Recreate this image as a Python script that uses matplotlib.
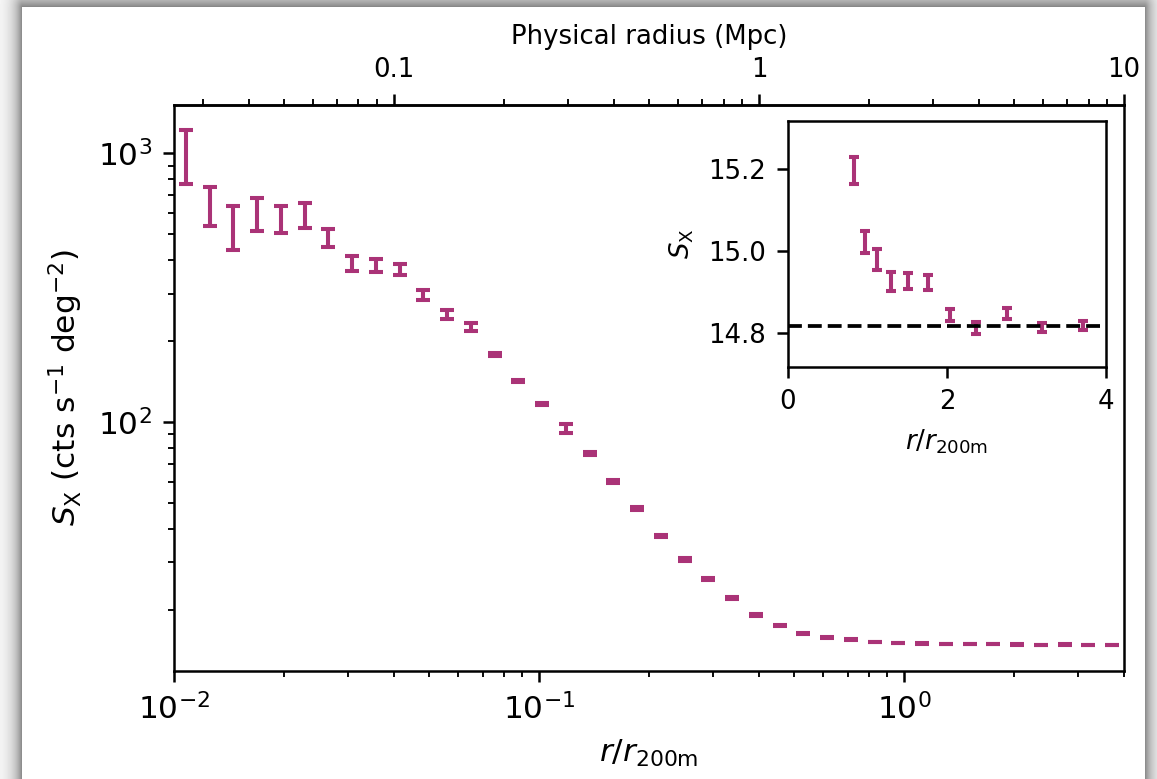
import numpy as np
import matplotlib
matplotlib.use("Agg")
import matplotlib.pyplot as plt
from matplotlib.ticker import FuncFormatter, FixedLocator

# radial bin centres in units of r_200m
r = [0.01078, 0.01252, 0.01454, 0.01689, 0.01963, 0.02280, 0.02648, 0.03076,
     0.03573, 0.04150, 0.04821, 0.05600, 0.06505, 0.07556, 0.08777, 0.10193,
     0.11840, 0.13754, 0.15977, 0.18557, 0.21556, 0.25040, 0.29085, 0.33785,
     0.39244, 0.45585, 0.52952, 0.61506, 0.71444, 0.82992, 0.96402, 1.1198,
     1.3007, 1.5109, 1.7550, 2.0386, 2.3680, 2.7506, 3.1950, 3.7113]

# surface brightness profile (cts/s/deg^2) and 1-sigma errors
sx = [991, 644, 537, 597, 572, 592, 484, 391,
      382, 370, 297, 251, 226, 178.3, 141.9, 117.0,
      94.6, 76.3, 60.1, 47.6, 37.7, 30.8, 26.1, 22.1,
      19.1, 17.5, 16.3, 15.75, 15.45, 15.197, 15.022, 14.979,
      14.925, 14.926, 14.923, 14.844, 14.811, 14.847, 14.813, 14.818]
sx_err = [225, 107, 100, 83, 65, 63, 38, 25,
          22, 17, 11.5, 10, 7.5, 3.0, 1.5, 1.0,
          3.3, 0.8, 0.6, 0.5, 0.4, 0.3, 0.25, 0.2,
          0.15, 0.12, 0.1, 0.08, 0.06, 0.033, 0.028, 0.025,
          0.023, 0.020, 0.018, 0.015, 0.015, 0.013, 0.011, 0.011]

background = 14.816   # fitted background level
r200m_mpc = 2.5       # r_200m in physical Mpc
n_out = 11            # outer bins shown in the inset
mpc_ticks = [0.1, 1, 10]

colour = "#AA3377"
W, H, DPI = 1157, 779, 225

fig = plt.figure(figsize=(W / DPI, H / DPI), dpi=DPI)

# soft drop shadow around the white card
yy, xx = np.mgrid[0:H, 0:W]
dx = np.maximum(np.maximum(22 - xx, xx - 1144), 0)
dy = np.maximum(7 - yy, 0)
d = np.hypot(dx / 9.0, dy / 14.0)
shade = np.where(d > 0, 1 - 0.5 * np.exp(-d), 1.0)
bg = fig.add_axes([0, 0, 1, 1], zorder=-10)
bg.imshow(shade, cmap="gray", vmin=0, vmax=1, aspect="auto", interpolation="bilinear")
bg.axis("off")

ax = fig.add_axes([174 / W, 1 - 670.7 / H, 950 / W, 566 / H])
ax.errorbar(r, sx, yerr=sx_err, fmt="none", ecolor=colour,
            elinewidth=1.3, capsize=2.1, capthick=1.3)
ax.set_xscale("log")
ax.set_yscale("log")
ax.set_xlim(0.01, 4)
ax.set_xlabel(r"$r/r_{\rm 200m}$")
ax.set_ylabel(r"$S_{\rm X}$ (cts s$^{-1}$ deg$^{-2}$)")

# physical radius along the top
top = ax.secondary_xaxis("top", functions=(lambda x: x * r200m_mpc,
                                           lambda x: x / r200m_mpc))
top.xaxis.set_major_locator(FixedLocator(mpc_ticks))
top.xaxis.set_major_formatter(FuncFormatter(lambda v, _: f"{v:g}"))
top.tick_params(labelsize="small")
top.set_xlabel("Physical radius (Mpc)", fontsize="small")

# zoom on the outskirts, linear axes
ins = fig.add_axes([788 / W, 1 - 366.7 / H, 318 / W, 245.7 / H])
ins.errorbar(r[-n_out:], sx[-n_out:], yerr=sx_err[-n_out:], fmt="none",
             ecolor=colour, elinewidth=1.3, capsize=1.6, capthick=1.3)
ins.axhline(background, color="black", ls="--", lw=1.2)
ins.set_xlim(0, 4)
ins.set_ylim(14.717, 15.318)
ins.set_xticks([0, 2, 4])
ins.set_yticks([14.8, 15.0, 15.2])
ins.tick_params(labelsize="small")
ins.set_xlabel(r"$r/r_{\rm 200m}$", fontsize="small")
ins.set_ylabel(r"$S_{\rm X}$", fontsize="small")

fig.savefig("out.png", dpi=DPI)
